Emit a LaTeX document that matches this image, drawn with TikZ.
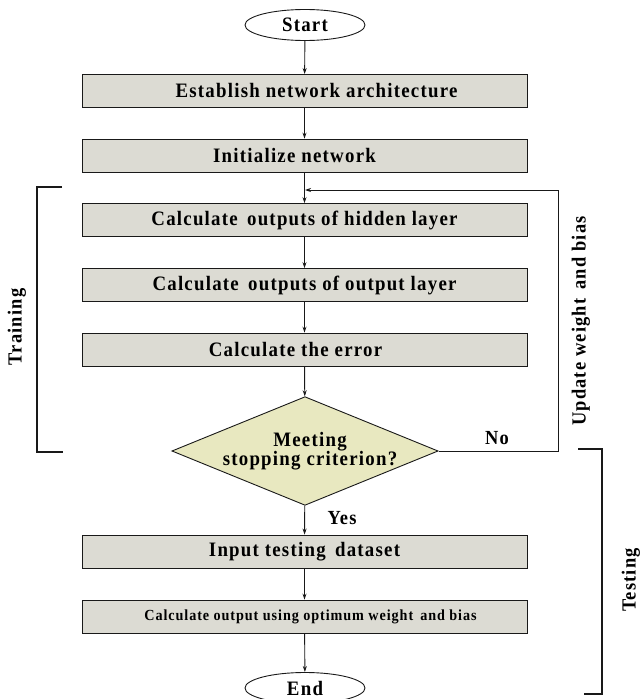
\documentclass[tikz,border=0pt]{standalone}
\usepackage{fontspec}
\setmainfont{Liberation Serif}[FakeStretch=0.92,LetterSpace=6]
\usetikzlibrary{shapes.geometric,arrows.meta}
\definecolor{boxfill}{RGB}{220,219,211}
\definecolor{decfill}{RGB}{232,232,192}
\definecolor{linec}{RGB}{25,25,25}
% set a line of text off centre by #1 without changing its width
\newcommand\nudge[2]{\hspace*{#1}#2\hspace*{-#1}}
\tikzset{
  stepbox/.style={draw=linec,line width=0.9pt,fill=boxfill,minimum width=445pt,minimum height=33pt,
    inner sep=0pt,font=\bfseries\fontsize{20.5}{22}\selectfont},
  term/.style={draw=linec,line width=0.9pt,fill=white,ellipse,minimum width=120pt,minimum height=31pt,
    inner sep=0pt,font=\bfseries\fontsize{20.5}{22}\selectfont},
  decision/.style={draw=linec,line width=0.9pt,fill=decfill,diamond,aspect=2.45,minimum width=261pt,
    minimum height=106pt,inner sep=0pt,align=center,font=\bfseries\fontsize{20.5}{17}\selectfont},
  flow/.style={draw=linec,line width=0.9pt,-{Stealth[length=6pt,width=4pt]}},
  bracket/.style={draw=linec,line width=1.1pt},
  lbl/.style={font=\bfseries\fontsize{20}{22}\selectfont}
}
\begin{document}
\begin{tikzpicture}[x=1pt,y=-1pt]
\useasboundingbox (0,0) rectangle (640,699);
\node[term] (start) at (305,25) {Start};
\node[stepbox] (arch) at (304.5,91) {\nudge{12pt}{Establish network architecture}};
\node[stepbox] (init) at (304.5,155.5) {\nudge{-10pt}{Initialize network}};
\node[stepbox] (hidden) at (304.5,220) {Calculate\, outputs of hidden layer};
\node[stepbox] (outl) at (304.5,285) {Calculate\, outputs of output layer};
\node[stepbox] (err) at (304.5,349.5) {\nudge{-9pt}{Calculate the error}};
\node[decision] (crit) at (305,451) {\nudge{5pt}{Meeting}\\[-1pt]\nudge{5pt}{stopping criterion?}};
\node[stepbox] (test) at (304.5,551.5) {Input testing\, dataset};
\node[stepbox,font=\bfseries\fontsize{15.4}{17}\selectfont] (final) at (304.5,616.5) {\nudge{6pt}{Calculate output using optimum weight\, and bias}};
\node[term] (end) at (305,688) {End};

\coordinate (loopin) at (305,190);
\coordinate (loopR) at (558,190);
\coordinate (noR) at (558,451);

\draw[flow] (start) -- (arch);
\draw[flow] (arch) -- (init);
\draw[flow] (init) -- (hidden);
\draw[flow] (hidden) -- (outl);
\draw[flow] (outl) -- (err);
\draw[flow] (err) -- (crit);
\draw[flow] (crit) -- (test);
\draw[flow] (test) -- (final);
\draw[flow] (final) -- (end);
\draw[flow] (crit.east) -- (noR) -- (loopR) -- (loopin);

\node[lbl] (no) at (497,438) {No};
\node[lbl] (yes) at (342,518) {Yes};
\node[lbl,rotate=90] (upd) at (581,321) {Update weight\, and bias};

% training bracket
\coordinate (trT) at (62,187);
\coordinate (trB) at (63,452);
\draw[bracket] (trT) -- (37,187) -- (37,452) -- (trB);
\node[lbl,rotate=90] (train) at (17,327) {Training};

% testing bracket
\coordinate (teT) at (578,449);
\coordinate (teB) at (584,694);
\draw[bracket] (teT) -- (602,449) -- (602,694) -- (teB);
\node[lbl,rotate=90] (testing) at (631,580) {Testing};
\end{tikzpicture}
\end{document}
